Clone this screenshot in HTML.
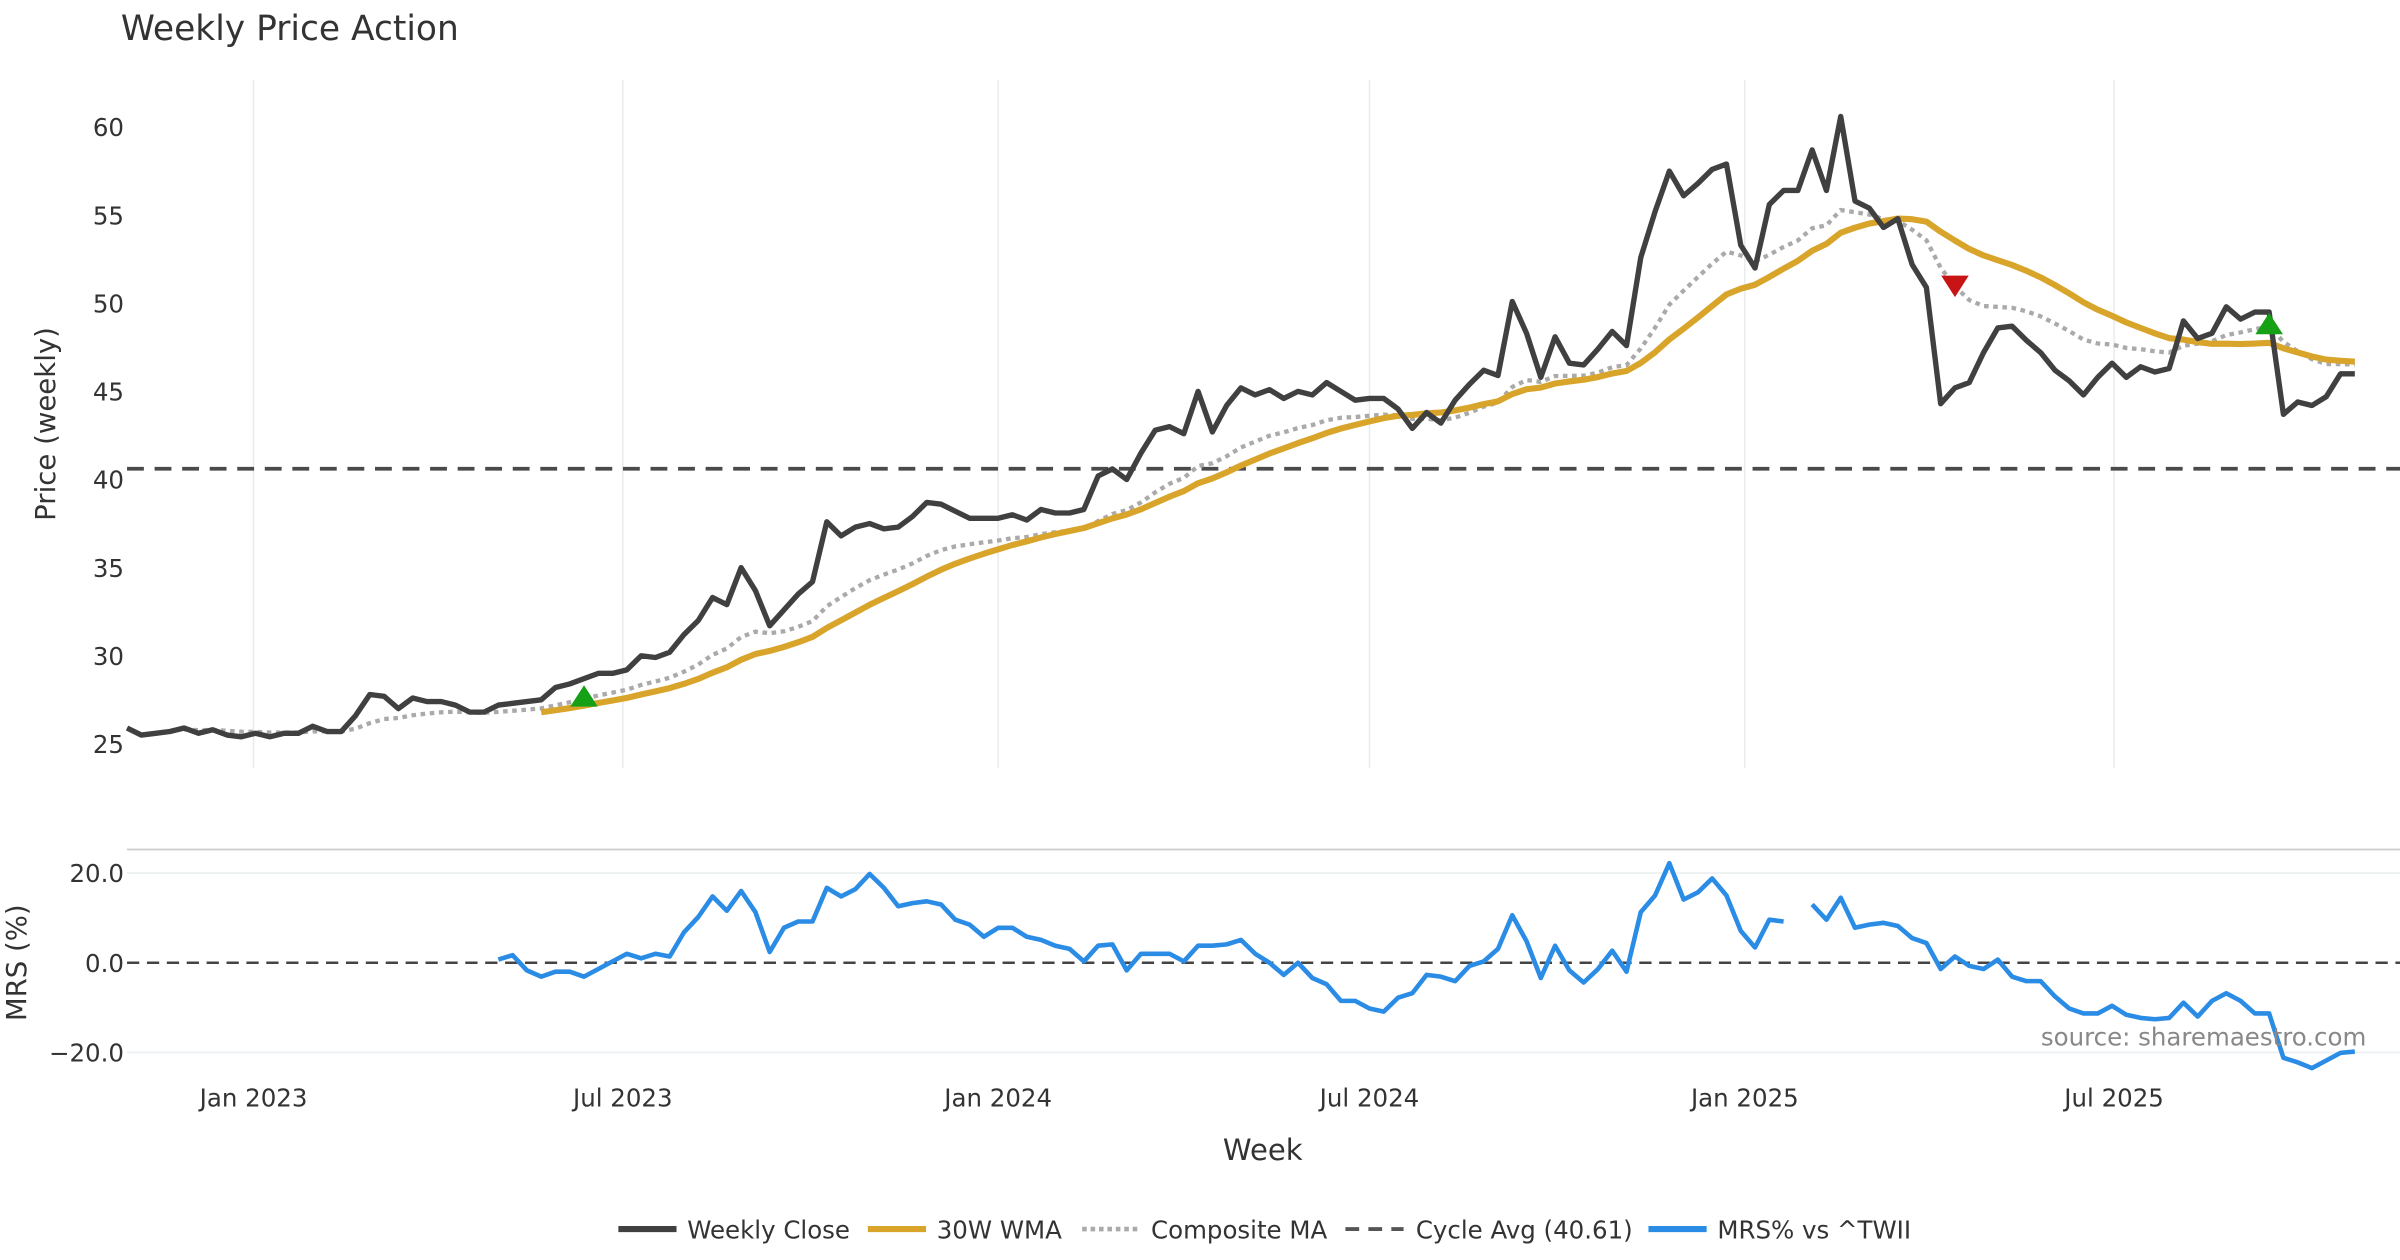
<!DOCTYPE html>
<html><head><meta charset="utf-8"><style>
html,body{margin:0;padding:0;background:#fff;}
svg{display:block;font-family:"DejaVu Sans","Liberation Sans",sans-serif;}
</style></head><body>
<svg id="chart" width="2400" height="1260" viewBox="0 0 1568 823.2" xmlns="http://www.w3.org/2000/svg">
<text x="79" y="26" font-size="22.5" fill="#333">Weekly Price Action</text>
<g id="price"></g>
<g id="mrs"></g>
<text transform="translate(36,277) rotate(-90)" text-anchor="middle" font-size="18" fill="#333">Price (weekly)</text>
<text transform="translate(17,629) rotate(-90)" text-anchor="middle" font-size="18" fill="#333">MRS (%)</text>
<text x="825" y="758" text-anchor="middle" font-size="19" fill="#333">Week</text>
<text x="1546" y="683" text-anchor="end" font-size="16" fill="#888">source: sharemaestro.com</text>
<g font-size="16" fill="#333">
 <g><line x1="404" y1="803" x2="442" y2="803" stroke="#404040" stroke-width="4"/><text x="449" y="809">Weekly Close</text></g>
 <g><line x1="567" y1="803" x2="605" y2="803" stroke="#d9a42a" stroke-width="4"/><text x="612" y="809">30W WMA</text></g>
 <g><line x1="707" y1="803" x2="745" y2="803" stroke="#aaa" stroke-width="3" stroke-dasharray="3,2.5"/><text x="752" y="809">Composite MA</text></g>
 <g><line x1="879" y1="803" x2="917" y2="803" stroke="#555" stroke-width="2.5" stroke-dasharray="9,6"/><text x="925" y="809">Cycle Avg (40.61)</text></g>
 <g><line x1="1077" y1="803" x2="1115" y2="803" stroke="#2b8ce6" stroke-width="4"/><text x="1122" y="809">MRS% vs ^TWII</text></g>
</g>
</svg>
<script>
const closes = [25.9,25.5,25.6,25.7,25.9,25.6,25.8,25.5,25.4,25.6,
25.4,25.6,25.6,26.0,25.7,25.7,26.6,27.8,27.7,27.0,
27.6,27.4,27.4,27.2,26.8,26.8,27.2,27.3,27.4,27.5,
28.2,28.4,28.7,29.0,29.0,29.2,30.0,29.9,30.2,31.2,
32.0,33.3,32.9,35.0,33.7,31.7,32.6,33.5,34.2,37.6,
36.8,37.3,37.5,37.2,37.3,37.9,38.7,38.6,38.2,37.8,
37.8,37.8,38.0,37.7,38.3,38.1,38.1,38.3,40.2,40.6,
40.0,41.5,42.8,43.0,42.6,45.0,42.7,44.2,45.2,44.8,
45.1,44.6,45.0,44.8,45.5,45.0,44.5,44.6,44.6,44.0,
42.9,43.8,43.2,44.5,45.4,46.2,45.9,50.1,48.3,45.8,
48.1,46.6,46.5,47.4,48.4,47.6,52.6,55.2,57.5,56.1,
56.8,57.6,57.9,53.3,52.0,55.6,56.4,56.4,58.7,56.4,
60.6,55.8,55.4,54.3,54.8,52.2,50.9,44.3,45.2,45.5,
47.2,48.6,48.7,47.9,47.2,46.2,45.6,44.8,45.8,46.6,
45.8,46.4,46.1,46.3,49.0,48.0,48.3,49.8,49.1,49.5,
49.5,43.7,44.4,44.2,44.7,46.0,46.0];
const mrsStart = 26;
const mrsValues = [0.7,1.7,-1.7,-3.1,-2.0,-2.0,-3.1,-1.4,0.3,2.0,
1.0,2.0,1.4,6.8,10.2,14.8,11.6,16.0,11.3,2.4,
7.8,9.2,9.2,16.7,14.8,16.4,19.8,16.7,12.6,13.3,
13.7,13.0,9.6,8.5,5.8,7.8,7.8,5.8,5.1,3.8,
3.1,0.3,3.8,4.1,-1.7,2.0,2.0,2.0,0.3,3.8,
3.8,4.1,5.1,2.0,0,-2.7,0,-3.4,-4.8,-8.5,
-8.5,-10.2,-10.9,-7.8,-6.8,-2.7,-3.1,-4.1,-0.7,0.3,
3.1,10.6,4.8,-3.4,3.8,-1.7,-4.4,-1.4,2.7,-2.0,
11.3,15.0,22.2,14.1,15.7,18.8,15.0,7.1,3.4,9.6,
9.2,null,13.0,9.6,14.5,7.8,8.5,8.9,8.2,5.5,
4.4,-1.4,1.4,-0.7,-1.4,0.7,-3.1,-4.1,-4.1,-7.5,
-10.2,-11.3,-11.3,-9.6,-11.6,-12.3,-12.6,-12.3,-8.9,-12.0,
-8.5,-6.8,-8.5,-11.3,-11.3,-21.2,-22.2,-23.5,-21.8,-20.1,-19.8];
const cycleAvg = 40.61;
const priceTicks = [25,30,35,40,45,50,55,60];
const mrsTicks = [-20,0,20];
const dateTicks = ["2023-01-01","2023-07-01","2024-01-01","2024-07-01","2025-01-01","2025-07-01"];
const dateTickLabels = ["Jan 2023","Jul 2023","Jan 2024","Jul 2024","Jan 2025","Jul 2025"];
const buySignals = [32,150];
const sellSignals = [128];

const NS="http://www.w3.org/2000/svg";
const startDate = Date.UTC(2022,9,31);
const X0=83, PXW=9.33;
const xi = i => X0 + i*PXW;
const xd = s => X0 + (Date.parse(s)-startDate)/(7*864e5)*PXW;
const yp = v => 83 + (60-v)*11.514;
const ym = v => 629 - v*2.93;
function mk(tag, attrs, parent){const e=document.createElementNS(NS,tag);for(const k in attrs)e.setAttribute(k,attrs[k]);parent.appendChild(e);return e;}

function wma(n){return closes.map((c,i)=>{if(i<n-1)return null;let s=0,w=0;for(let k=0;k<n;k++){s+=closes[i-k]*(n-k);w+=n-k;}return s/w;});}
function ema(n){const a=2/(n+1);let e=closes[0];return closes.map(c=>(e=a*c+(1-a)*e));}
const wma30 = wma(30);
const e5=ema(5), e10=ema(10), e20=ema(20), e30=ema(30);
const composite = closes.map((c,i)=> i<4?null:(e5[i]+e10[i]+e20[i]+e30[i])/4);

function pathOf(vals, xf, yf){let d="",pen=false;vals.forEach((v,i)=>{if(v==null){pen=false;return;}d+=(pen?"L":"M")+xf(i).toFixed(2)+","+yf(v).toFixed(2);pen=true;});return d;}

const P=document.getElementById('price');
dateTicks.forEach((t,i)=>{
  const g=mk('line',{x1:xd(t),x2:xd(t),y1:52,y2:502,stroke:'#e8ecef','stroke-width':1},P);
  
  
  const tx=mk('text',{x:xd(t),y:723,'text-anchor':'middle','font-size':16,fill:'#333'},document.getElementById('chart'));
  tx.textContent=dateTickLabels[i];
  
  
});
priceTicks.forEach(v=>{
  const t=mk('text',{x:81,y:yp(v)+6,'text-anchor':'end','font-size':16,fill:'#333'},P);
  t.textContent=v;
  
  
});
const ca=mk('line',{x1:83,x2:1568,y1:yp(cycleAvg),y2:yp(cycleAvg),stroke:'#4a4a4a','stroke-width':2.5,'stroke-dasharray':'11,7'},P);


const cm=mk('path',{d:pathOf(composite,xi,yp),fill:'none',stroke:'#aaa','stroke-width':2.8,'stroke-dasharray':'3,3'},P);


const wl=mk('path',{d:pathOf(wma30,xi,yp),fill:'none',stroke:'#d9a42a','stroke-width':4,'stroke-linejoin':'round'},P);


const cl=mk('path',{d:pathOf(closes,xi,yp),fill:'none',stroke:'#404040','stroke-width':3.5,'stroke-linejoin':'round'},P);


buySignals.forEach(i=>{
  const x=xi(i), y=yp(composite[i]);
  const m=mk('polygon',{points:`${x-9},${y+5} ${x+9},${y+5} ${x},${y-9}`,fill:'#16a016'},P);
  
  
});
sellSignals.forEach(i=>{
  const x=xi(i), y=yp(composite[i]);
  const m=mk('polygon',{points:`${x-9},${y-7} ${x+9},${y-7} ${x},${y+7}`,fill:'#c81414'},P);
  
  
});

const M=document.getElementById('mrs');
const tb=mk('line',{x1:83,x2:1568,y1:555,y2:555,stroke:'#ccc','stroke-width':1.2},M);


mrsTicks.forEach(v=>{
  const g=mk('line',{x1:83,x2:1568,y1:ym(v),y2:ym(v),stroke:v===0?'#444':'#eceff1','stroke-width':v===0?1.6:1,'stroke-dasharray':v===0?'8,5':'none'},M);
  
  
  const t=mk('text',{x:81,y:ym(v)+6,'text-anchor':'end','font-size':16,fill:'#333'},M);
  t.textContent=(v<0?'\u2212':'')+Math.abs(v).toFixed(1);
  
  
});
const mrsFull = closes.map((c,i)=> i<mrsStart?null:mrsValues[i-mrsStart]);
const ml=mk('path',{d:pathOf(mrsFull,xi,ym),fill:'none',stroke:'#2b8ce6','stroke-width':3,'stroke-linejoin':'round'},M);


</script>
</body></html>
